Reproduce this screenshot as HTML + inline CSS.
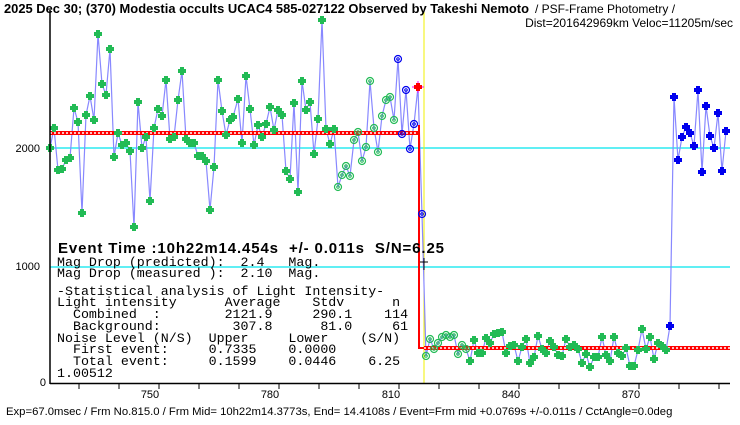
<!DOCTYPE html>
<html><head><meta charset="utf-8"><style>
body{margin:0;background:#fff;width:740px;height:425px;overflow:hidden}
svg{display:block}
text{font-family:"Liberation Sans","Noto Sans CJK JP",sans-serif}
.m text{font-family:"Liberation Mono","Noto Sans CJK JP",monospace;font-size:13.3px;white-space:pre}
</style></head><body>
<svg id="s" width="740" height="425" xmlns="http://www.w3.org/2000/svg">
<rect width="740" height="425" fill="#fff"/>
<line x1="50" y1="148" x2="730" y2="148" stroke="#00e5ee" stroke-width="1.2"/>
<line x1="50" y1="267" x2="730" y2="267" stroke="#00e5ee" stroke-width="1.2"/>
<line x1="424" y1="10" x2="424" y2="383" stroke="#f0f000" stroke-width="1"/>
<g id="g"></g>
<line x1="50" y1="10" x2="50" y2="384" stroke="#000" stroke-width="1.5"/>
<line x1="50" y1="383.5" x2="730" y2="383.5" stroke="#000" stroke-width="1.5"/>
<g id="t"></g>
<g font-size="11" text-anchor="end"><text x="40" y="152">2000</text><text x="40" y="270">1000</text><text x="46" y="386">0</text></g>
<g font-size="11" text-anchor="middle"><text x="150" y="398">750</text><text x="270" y="398">780</text><text x="391" y="398">810</text><text x="511" y="398">840</text><text x="631" y="398">870</text></g>
<text x="4" y="13" font-size="13" font-weight="bold" textLength="525" lengthAdjust="spacingAndGlyphs">2025 Dec 30; (370) Modestia occults UCAC4 585-027122 Observed by Takeshi Nemoto</text>
<text x="535" y="13" font-size="12">/ PSF-Frame Photometry /</text>
<text x="733" y="27" font-size="12" text-anchor="end">Dist=201642969km Veloc=11205m/sec</text>
<text x="6" y="415" font-size="11.3">Exp=67.0msec / Frm No.815.0 / Frm Mid= 10h22m14.3773s, End= 14.4108s / Event=Frm mid +0.0769s +/-0.011s / CctAngle=0.0deg</text>
<text x="58" y="253" font-size="15" font-weight="bold" textLength="386" lengthAdjust="spacing" style="white-space:pre">Event Time :10h22m14.454s  +/- 0.011s  S/N=6.25</text>
<g class="m">
<text x="57" y="266">Mag Drop (predicted):  2.4   Mag.</text>
<text x="57" y="277">Mag Drop (measured ):  2.10  Mag.</text>
<text x="57" y="295">-Statistical analysis of Light Intensity-</text>
<text x="57" y="306">Light intensity      Average    Stdv      n</text>
<text x="57" y="318">  Combined  :        2121.9     290.1    114</text>
<text x="57" y="330">  Background:         307.8      81.0     61</text>
<text x="57" y="342">Noise Level (N/S)  Upper     Lower    (S/N)</text>
<text x="57" y="353">  First event:     0.7335    0.0000</text>
<text x="57" y="365">  Total event:     0.1599    0.0446    6.25</text>
<text x="57" y="377">1.00512</text>
</g>
</svg>
<script>
var NS="http://www.w3.org/2000/svg",g=document.getElementById('g'),t=document.getElementById('t');
function el(p,n,a){var e=document.createElementNS(NS,n);for(var k in a)e.setAttribute(k,a[k]);p.appendChild(e);return e;}
for(var x=79;x<730;x+=40)el(t,'line',{x1:x,y1:383,x2:x,y2:389,stroke:'#000'});
var F=[[50,148],[54,128],[58,170],[62,169],[66,160],[70,158],[74,108],[78,122],[82,213],[86,115],[90,96],[94,120],[98,34],[102,84],[106,95],[110,49],[114,157],[118,133],[122,145],[126,143],[130,151],[134,227],[138,102],[142,148],[146,137],[150,201],[154,128],[158,109],[162,116],[166,80],[170,139],[174,137],[178,100],[182,71],[186,139],[190,143],[194,143],[198,156],[202,156],[206,161],[210,210],[214,167],[218,80],[222,111],[226,135],[230,120],[233,117],[238,99],[242,143],[246,76],[250,109],[254,145],[258,125],[262,137],[266,124],[270,107],[274,130],[278,110],[282,115],[286,171],[290,179],[294,103],[298,192],[302,81],[306,110],[310,102],[314,154],[318,119],[322,20],[326,129],[330,144],[334,129]];
var H=[[338,187],[342,175],[346,166],[350,176],[354,140],[358,132],[362,161],[366,147],[370,81],[374,128],[378,152],[382,116],[386,100],[390,97],[394,120]];
var B=[[398,59],[402,134],[406,90],[410,149],[414,124]];
var R=[[418,87]];var B2=[[422,214]];
var H2=[[426,356],[430,339],[434,349],[438,343],[442,337],[446,335],[450,337],[454,335],[458,354],[462,345],[466,349]];
var F2=[[470,361],[474,340],[478,353],[482,353],[486,338],[490,343],[494,334],[498,333],[502,332],[506,353],[510,346],[514,345],[518,361],[522,347],[526,339],[530,363],[534,357],[538,336],[542,349],[546,353],[550,341],[554,347],[558,355],[562,356],[566,339],[570,347],[574,345],[578,349],[582,363],[586,354],[590,367],[594,357],[598,357],[602,337],[606,355],[610,361],[614,337],[618,353],[622,356],[626,348],[630,366],[634,366],[638,350],[642,329],[646,349],[650,337],[654,359],[658,343],[662,346],[666,350]];
var B3=[[670,326],[674,97],[678,160],[682,137],[686,127],[690,133],[694,146],[698,90],[702,172],[706,106],[710,136],[714,148],[718,113],[722,171],[726,131]];
var all=F.concat(H,B,R,B2,H2,F2,B3);
el(g,'polyline',{points:all.map(p=>p.join(',')).join(' '),fill:'none',stroke:'#8888ff','stroke-width':1.2});
el(g,'path',{d:'M50 133H418',stroke:'#f00','stroke-width':4,fill:'none'});
el(g,'path',{d:'M50 133H418',stroke:'#fff','stroke-width':1.5,'stroke-dasharray':'2 2',fill:'none'});
el(g,'path',{d:'M424 348H730',stroke:'#f00','stroke-width':4,fill:'none'});
el(g,'path',{d:'M424 348H730',stroke:'#fff','stroke-width':1.5,'stroke-dasharray':'2 2',fill:'none'});
el(g,'path',{d:'M419 125V348H424',stroke:'#f00','stroke-width':2,fill:'none'});
function filled(p,c){el(g,'path',{d:'M'+(p[0]-2)+' '+(p[1]-4)+'h4v2h2v4h-2v2h-4v-2h-2v-4h2z',fill:c});}
function hollow(p,c){el(g,'circle',{cx:p[0],cy:p[1],r:3.5,fill:'none',stroke:c,'stroke-width':1.2});el(g,'circle',{cx:p[0],cy:p[1],r:1.3,fill:'none',stroke:c,'stroke-width':1});}
F.concat(F2).forEach(p=>filled(p,'#22bb55'));
H.concat(H2).forEach(p=>hollow(p,'#22bb55'));
B.concat(B2).forEach(p=>hollow(p,'#0000ee'));
B3.forEach(p=>filled(p,'#0000ee'));
el(g,'path',{d:'M412 87H424M418 81V93',stroke:'#f0f','stroke-width':1});
filled(R[0],'#f00');
el(g,'path',{d:'M420 262H428M424 258V270',stroke:'#000','stroke-width':1});
</script>
</body></html>
